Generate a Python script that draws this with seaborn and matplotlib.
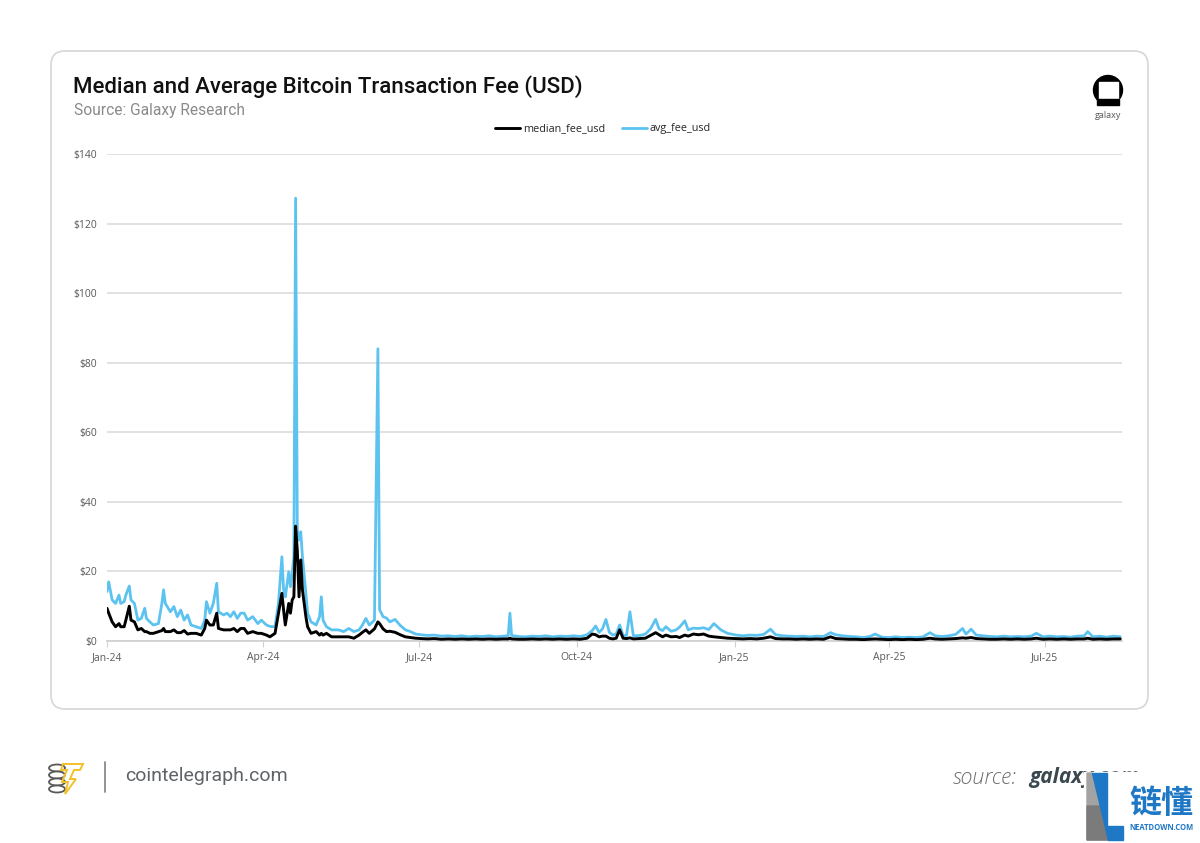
import pandas as pd
import matplotlib
matplotlib.use("Agg")
import matplotlib.pyplot as plt
import matplotlib.dates as mdates
import matplotlib.ticker as mticker
from matplotlib.patches import FancyBboxPatch, Polygon, Ellipse, Circle, Rectangle
import seaborn as sns

# values (USD per transaction)
dates = [
    # 2024
    "2024-01-01", "2024-01-02", "2024-01-04", "2024-01-06", "2024-01-08", "2024-01-09",
    "2024-01-11", "2024-01-12", "2024-01-14", "2024-01-15", "2024-01-17", "2024-01-19",
    "2024-01-21", "2024-01-23", "2024-01-24", "2024-01-26", "2024-01-28", "2024-01-31",
    "2024-02-02", "2024-02-03", "2024-02-04", "2024-02-07", "2024-02-09", "2024-02-11",
    "2024-02-13", "2024-02-15", "2024-02-17", "2024-02-19", "2024-02-22", "2024-02-25",
    "2024-02-27", "2024-02-28",
    "2024-03-01", "2024-03-03", "2024-03-05", "2024-03-06", "2024-03-09", "2024-03-11",
    "2024-03-13", "2024-03-15", "2024-03-17", "2024-03-19", "2024-03-21", "2024-03-23",
    "2024-03-26", "2024-03-29", "2024-03-31",
    "2024-04-03", "2024-04-05", "2024-04-08", "2024-04-10", "2024-04-12", "2024-04-13",
    "2024-04-14", "2024-04-16", "2024-04-17", "2024-04-18", "2024-04-19", "2024-04-20",
    "2024-04-21", "2024-04-22", "2024-04-23", "2024-04-24", "2024-04-26", "2024-04-27",
    "2024-04-29",
    "2024-05-02", "2024-05-04", "2024-05-05", "2024-05-06", "2024-05-08", "2024-05-11",
    "2024-05-15", "2024-05-18", "2024-05-21", "2024-05-24", "2024-05-27", "2024-05-29",
    "2024-05-31",
    "2024-06-02", "2024-06-05", "2024-06-07", "2024-06-08", "2024-06-10", "2024-06-12",
    "2024-06-14", "2024-06-17", "2024-06-20", "2024-06-23", "2024-06-26", "2024-06-29",
    "2024-07-02", "2024-07-06", "2024-07-10", "2024-07-14", "2024-07-18", "2024-07-22",
    "2024-07-26", "2024-07-30",
    "2024-08-03", "2024-08-07", "2024-08-11", "2024-08-15", "2024-08-19", "2024-08-22",
    "2024-08-23", "2024-08-24", "2024-08-28",
    "2024-09-01", "2024-09-05", "2024-09-09", "2024-09-13", "2024-09-17", "2024-09-21",
    "2024-09-25", "2024-09-29",
    "2024-10-03", "2024-10-07", "2024-10-10", "2024-10-12", "2024-10-14", "2024-10-16",
    "2024-10-18", "2024-10-20", "2024-10-22", "2024-10-24", "2024-10-26", "2024-10-28",
    "2024-10-30",
    "2024-11-01", "2024-11-03", "2024-11-07", "2024-11-10", "2024-11-13", "2024-11-16",
    "2024-11-18", "2024-11-20", "2024-11-22", "2024-11-25", "2024-11-28", "2024-11-30",
    "2024-12-03", "2024-12-05", "2024-12-08", "2024-12-11", "2024-12-14", "2024-12-17",
    "2024-12-20", "2024-12-24", "2024-12-28",
    # 2025
    "2025-01-02", "2025-01-06", "2025-01-10", "2025-01-14", "2025-01-18", "2025-01-22",
    "2025-01-25", "2025-01-29",
    "2025-02-02", "2025-02-06", "2025-02-10", "2025-02-14", "2025-02-18", "2025-02-22",
    "2025-02-26",
    "2025-03-01", "2025-03-05", "2025-03-09", "2025-03-13", "2025-03-17", "2025-03-21",
    "2025-03-24", "2025-03-28",
    "2025-04-01", "2025-04-05", "2025-04-09", "2025-04-13", "2025-04-17", "2025-04-21",
    "2025-04-25", "2025-04-28",
    "2025-05-02", "2025-05-06", "2025-05-10", "2025-05-14", "2025-05-16", "2025-05-19",
    "2025-05-22", "2025-05-26", "2025-05-30",
    "2025-06-03", "2025-06-07", "2025-06-11", "2025-06-15", "2025-06-19", "2025-06-23",
    "2025-06-26", "2025-06-30",
    "2025-07-04", "2025-07-08", "2025-07-12", "2025-07-16", "2025-07-20", "2025-07-24",
    "2025-07-26", "2025-07-29",
    "2025-08-02", "2025-08-06", "2025-08-10", "2025-08-14",
]

median_fee_usd = [
    9.4, 8.0, 5.5, 4.1, 5.0, 4.1,
    4.1, 6.0, 10.0, 6.0, 5.5, 3.2,
    3.6, 2.7, 2.7, 2.2, 2.2, 2.7,
    3.0, 3.6, 2.7, 2.7, 3.2, 2.4,
    2.4, 3.0, 2.0, 2.2, 2.2, 1.7,
    3.6, 6.0,
    4.6, 4.6, 8.0, 3.6, 3.2, 3.2,
    3.2, 3.6, 2.7, 3.6, 3.6, 2.2,
    2.7, 2.2, 2.2,
    1.7, 1.2, 2.2, 8.0, 13.7, 8.9,
    4.6, 10.8, 8.0, 11.8, 12.7, 33.0,
    26.0, 12.7, 23.3, 14.7, 7.0, 4.1,
    2.2,
    2.7, 1.7, 2.2, 1.7, 2.2, 1.2,
    1.2, 1.2, 1.2, 0.8, 1.7, 2.5,
    3.2,
    2.2, 3.5, 5.5, 5.0, 3.5, 2.7,
    2.8, 2.5, 1.8, 1.2, 1.0, 0.8,
    0.7, 0.6, 0.7, 0.5, 0.6, 0.5,
    0.6, 0.5,
    0.6, 0.5, 0.6, 0.5, 0.6, 0.6,
    0.8, 0.6, 0.5,
    0.5, 0.6, 0.5, 0.6, 0.5, 0.6,
    0.5, 0.6,
    0.5, 0.8, 2.0, 1.8, 1.2, 1.4,
    1.4, 0.8, 0.6, 0.8, 3.2, 0.8,
    0.7,
    0.9, 0.6, 0.7, 0.8, 1.6, 2.4,
    1.8, 1.2, 1.7, 1.2, 1.3, 1.0,
    1.7, 1.4, 2.0, 1.8, 2.0, 1.4,
    1.2, 1.0, 0.8,
    0.7, 0.6, 0.7, 0.6, 0.8, 1.2,
    0.7, 0.6,
    0.6, 0.5, 0.6, 0.5, 0.6, 0.5,
    1.2,
    0.7, 0.6, 0.5, 0.5, 0.4, 0.5,
    0.6, 0.5,
    0.4, 0.5, 0.4, 0.5, 0.4, 0.5,
    0.8, 0.6,
    0.5, 0.6, 0.7, 0.9, 0.8, 1.0,
    0.7, 0.6, 0.5,
    0.5, 0.6, 0.5, 0.6, 0.5, 0.6,
    0.8, 0.5,
    0.6, 0.5, 0.6, 0.5, 0.6, 0.6,
    0.8, 0.5,
    0.6, 0.5, 0.6, 0.6,
]

avg_fee_usd = [
    14.2, 17.0, 11.8, 10.8, 13.2, 10.8,
    11.3, 13.2, 15.8, 11.8, 10.8, 6.0,
    6.5, 9.4, 6.5, 5.5, 4.6, 5.0,
    10.8, 14.7, 10.8, 8.4, 9.9, 7.0,
    8.9, 6.0, 7.5, 4.6, 4.1, 3.6,
    6.0, 11.3,
    8.0, 10.8, 16.6, 8.4, 7.5, 8.0,
    7.0, 8.4, 6.5, 8.0, 8.0, 6.0,
    7.0, 5.0, 6.0,
    4.6, 4.2, 4.1, 10.8, 24.2, 14.7,
    12.7, 19.9, 15.6, 19.5, 24.2, 127.3,
    32.0, 29.0, 31.4, 24.2, 13.7, 8.0,
    5.5,
    4.6, 7.0, 12.7, 6.0, 4.1, 3.2,
    3.2, 2.7, 3.6, 2.7, 3.2, 4.6,
    6.5,
    4.6, 6.0, 84.0, 9.0, 7.0, 6.6,
    5.5, 6.2, 4.5, 3.2, 2.7, 2.0,
    1.8, 1.6, 1.7, 1.4, 1.5, 1.3,
    1.5, 1.2,
    1.4, 1.3, 1.5, 1.2, 1.4, 1.5,
    8.0, 1.6, 1.3,
    1.2, 1.4, 1.3, 1.5, 1.2, 1.4,
    1.3, 1.5,
    1.3, 1.8, 3.0, 4.3, 2.5, 3.5,
    6.2, 2.5, 1.7, 2.0, 4.6, 1.6,
    1.6,
    8.4, 1.5, 1.6, 2.0, 3.5, 6.2,
    3.5, 3.0, 4.1, 2.8, 3.2, 4.0,
    5.8, 3.2, 3.7, 3.6, 3.8, 3.3,
    5.0, 3.2, 2.2,
    1.7, 1.5, 1.7, 1.6, 1.9, 3.4,
    1.8, 1.5,
    1.4, 1.3, 1.4, 1.2, 1.4, 1.3,
    2.4,
    1.8, 1.5, 1.3, 1.2, 1.0, 1.3,
    2.0, 1.1,
    1.0, 1.2, 1.0, 1.1, 1.0, 1.2,
    2.4, 1.5,
    1.3, 1.5, 1.9, 3.6, 2.0, 3.4,
    1.7, 1.5, 1.3,
    1.2, 1.4, 1.2, 1.3, 1.2, 1.4,
    2.2, 1.2,
    1.4, 1.2, 1.3, 1.1, 1.4, 1.5,
    2.7, 1.2,
    1.4, 1.1, 1.4, 1.2,
]

fees = pd.DataFrame({
    "date": pd.to_datetime(dates),
    "median_fee_usd": median_fee_usd,
    "avg_fee_usd": avg_fee_usd,
})

sns.set_theme(style="white")
plt.rcParams["font.family"] = ["Open Sans", "DejaVu Sans"]

W, H = 1200, 843
fig = plt.figure(figsize=(W / 100, H / 100), dpi=100)

# decoration layer in pixel coordinates
deco = fig.add_axes([0, 0, 1, 1], zorder=0)
deco.set_xlim(0, W)
deco.set_ylim(H, 0)
deco.axis("off")

card = FancyBboxPatch((51, 51), 1097, 658, boxstyle="round,pad=0,rounding_size=14",
                      facecolor="white", edgecolor="#d6d6d6", linewidth=1.2)
deco.add_patch(card)

deco.text(73, 87, "Median and Average Bitcoin Transaction Fee (USD)", family="Roboto",
          fontsize=16, fontweight="medium", color="#111111", va="center", ha="left")
deco.text(74, 111, "Source: Galaxy Research", family="Roboto", fontsize=11.2,
          color="#8a8a8a", va="center", ha="left")

# galaxy logo
deco.add_patch(Circle((1108, 90), 14.5, color="black"))
deco.add_patch(Rectangle((1098.5, 81.5), 19, 17.5, color="white"))
deco.add_patch(Rectangle((1097, 99), 22, 5.5, color="black"))
deco.text(1108, 115, "galaxy", fontsize=6.5, color="#555555", ha="center", va="center")

# cointelegraph footer
for i in range(4):
    deco.add_patch(Ellipse((57, 768 + 7 * i), 16, 7, facecolor="white",
                           edgecolor="#5a5a5a", linewidth=1.3))
bolt = [(63, 764), (83, 764), (80, 770), (74, 770), (70, 779), (76, 779),
        (65, 794), (68, 782), (62, 782), (67, 770), (61, 770)]
deco.add_patch(Polygon(bolt, closed=True, facecolor="none", edgecolor="#f3c12b", linewidth=1.4))
deco.plot([105, 105], [762, 792], color="#8a8a8a", linewidth=1.3)
deco.text(125, 776, "cointelegraph.com", family="Roboto", fontsize=14,
          color="#5f6368", va="center", ha="left")

deco.text(953, 778, "source:", fontsize=15.5, style="italic", fontweight="light",
          color="#6f6f6f", va="center", ha="left")
deco.text(1029, 778, "galaxy.com", fontsize=15, style="italic", fontweight="bold",
          color="#3b4850", va="center", ha="left")

# neatdown watermark
deco.add_patch(Rectangle((1084, 772), 116, 71, color="white", zorder=5))
deco.add_patch(Polygon([(1087, 773), (1092, 773), (1108, 840), (1087, 840)],
                       color="#a3a3a3", zorder=6))
deco.add_patch(Polygon([(1087, 806), (1100, 806), (1108, 840), (1087, 840)],
                       color="#7b7b7b", zorder=6))
deco.add_patch(Polygon([(1092, 773), (1107, 773), (1107, 826), (1123, 826),
                        (1123, 840), (1108, 840)], color="#1f78c6", zorder=6))
deco.text(1161, 804, "链懂", family=["Noto Sans CJK SC"], fontsize=23, fontweight="bold",
          color="#1f78c6", ha="center", va="center", zorder=7)
deco.text(1161, 827, "NEATDOWN.COM", fontsize=5.5, fontweight="bold",
          color="#1f78c6", ha="center", va="center", zorder=7)

# main chart
ax = fig.add_axes([107 / W, 1 - 641 / H, (1122 - 107) / W, (641 - 154) / H], zorder=1)
ax.set_facecolor("none")

sns.lineplot(data=fees, x="date", y="avg_fee_usd", color="#5cc3f0", linewidth=2.0,
             label="avg_fee_usd", ax=ax, zorder=3)
sns.lineplot(data=fees, x="date", y="median_fee_usd", color="black", linewidth=2.1,
             label="median_fee_usd", ax=ax, zorder=4)

ax.set_xlim(pd.Timestamp("2024-01-01"), pd.Timestamp("2025-08-15"))
ax.set_ylim(0, 140)
ax.yaxis.set_major_locator(mticker.MultipleLocator(20))
ax.yaxis.set_major_formatter(mticker.FuncFormatter(lambda v, p: f"${v:.0f}"))
ax.xaxis.set_major_locator(mdates.MonthLocator(bymonth=[1, 4, 7, 10]))
ax.xaxis.set_major_formatter(mdates.DateFormatter("%b-%y"))
ax.grid(axis="y", color="#d9d9d9", linewidth=1.1)
ax.grid(axis="x", visible=False)
for side in ["top", "right", "left"]:
    ax.spines[side].set_visible(False)
ax.spines["bottom"].set_color("#d0d0d0")
ax.tick_params(axis="y", length=0, pad=7, labelsize=7.5, labelcolor="#595959")
ax.tick_params(axis="x", length=4, width=0.8, color="#d0d0d0", pad=4,
               labelsize=7.5, labelcolor="#595959", bottom=True)
ax.set_xlabel("")
ax.set_ylabel("")

handles, labels = ax.get_legend_handles_labels()
order = [labels.index("median_fee_usd"), labels.index("avg_fee_usd")]
ax.legend([handles[i] for i in order], [labels[i] for i in order],
          loc="center", bbox_to_anchor=(603 / W, 1 - 129 / H),
          bbox_transform=fig.transFigure, ncol=2, frameon=False, fontsize=7.8,
          handlelength=2.3, columnspacing=1.5, handletextpad=0.3)

fig.savefig("out.png", dpi=100)
